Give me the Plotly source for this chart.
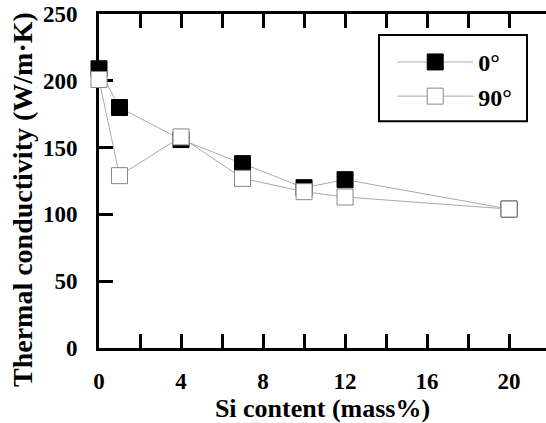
import plotly.graph_objects as go

si_content = [0, 1, 4, 7, 10, 12, 20]
k_0deg = [209, 180, 156, 138, 120, 126, 104]
k_90deg = [201, 129, 158, 127, 117, 113, 104]

x_tickvals = [0, 2, 4, 6, 8, 10, 12, 14, 16, 18, 20]
x_ticktext = ["0", "", "4", "", "8", "", "12", "", "16", "", "20"]
y_tickvals = [0, 50, 100, 150, 200, 250]
y_ticktext = ["0", "50", "100", "150", "200", "250"]

FONT = "Liberation Serif"

fig = go.Figure()
fig.add_trace(go.Scatter(
    x=si_content, y=k_0deg, name="0°", mode="lines+markers", cliponaxis=False,
    line=dict(color="#aaaaaa", width=1),
    marker=dict(symbol="square", size=16, color="black", line=dict(color="black", width=1)),
))
fig.add_trace(go.Scatter(
    x=si_content, y=k_90deg, name="90°", mode="lines+markers", cliponaxis=False,
    line=dict(color="#aaaaaa", width=1),
    marker=dict(symbol="square", size=16, color="white", line=dict(color="#888888", width=1)),
))

fig.update_layout(
    width=546, height=423,
    margin=dict(l=99, r=0, t=14, b=73),
    paper_bgcolor="white", plot_bgcolor="white",
    font=dict(family=FONT, color="black", size=22, weight="bold"),
    showlegend=True,
    legend=dict(
        x=0.656, y=0.9226, xanchor="left", yanchor="top",
        bgcolor="rgba(0,0,0,0)", borderwidth=0,
        font=dict(family=FONT, size=24, weight="bold"),
        itemwidth=76,
    ),
    shapes=[dict(
        type="rect", xref="paper", yref="paper",
        x0=0.6264, x1=0.9575, y0=0.6786, y1=0.9375,
        line=dict(color="black", width=2), fillcolor="white", layer="below",
    )],
    annotations=[dict(
        text="Thermal conductivity (W/m·K)", xref="paper", yref="paper",
        x=-0.1723, y=0.446, xanchor="center", yanchor="middle", textangle=-90,
        showarrow=False, font=dict(size=28, family=FONT, weight="bold"),
    )],
    xaxis=dict(
        range=[0, 21.8], tickvals=x_tickvals, ticktext=x_ticktext,
        ticks="inside", ticklen=14, tickwidth=3, tickcolor="black",
        showline=True, linewidth=3, linecolor="black", mirror="ticks",
        showgrid=False, zeroline=False, layer="below traces",
        tickfont=dict(size=23, family=FONT, weight="bold"),
        ticklabelstandoff=10,
        title=dict(text="Si content (mass%)", font=dict(size=26, family=FONT, weight="bold"), standoff=11),
    ),
    yaxis=dict(
        range=[0, 250], tickvals=y_tickvals, ticktext=y_ticktext,
        ticks="inside", ticklen=14, tickwidth=3, tickcolor="black",
        showline=True, linewidth=3, linecolor="black",
        showgrid=False, zeroline=False, layer="below traces",
        tickfont=dict(size=23, family=FONT, weight="bold"),
        ticklabelstandoff=14,
    ),
    yaxis2=dict(
        overlaying="y", side="right", anchor="x", range=[0, 250],
        tickvals=[50, 100, 150, 200], ticks="inside", ticklen=10, tickwidth=3, tickcolor="black",
        showticklabels=False, showline=False, showgrid=False, zeroline=False,
    ),
)

fig.write_html("out.html")
